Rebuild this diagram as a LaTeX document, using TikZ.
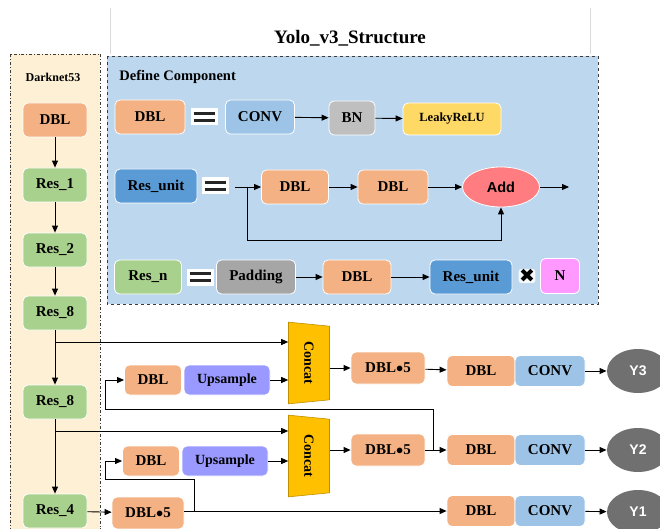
\documentclass[tikz,border=0pt]{standalone}
\usepackage{fontspec}
\setmainfont{Liberation Serif}
\newfontfamily\arialfont{Liberation Sans}
\newfontfamily\symfont{DejaVu Sans}
\usetikzlibrary{shapes.geometric,arrows.meta}
\definecolor{DBLOrange}{RGB}{244,177,131}
\definecolor{ResGreen}{RGB}{169,209,142}
\definecolor{ConvBlue}{RGB}{157,195,230}
\definecolor{UnitBlue}{RGB}{91,155,213}
\definecolor{BNGray}{RGB}{191,191,191}
\definecolor{PadGray}{RGB}{166,166,166}
\definecolor{ReluYellow}{RGB}{255,217,102}
\definecolor{AddRed}{RGB}{255,124,128}
\definecolor{NPink}{RGB}{255,153,255}
\definecolor{UpPurple}{RGB}{153,153,255}
\definecolor{ConcatGold}{RGB}{255,192,0}
\definecolor{OutGray}{RGB}{112,112,112}
\definecolor{DarkPanel}{RGB}{253,240,212}
\definecolor{DefPanel}{RGB}{189,215,238}
\definecolor{LineGray}{RGB}{60,60,60}

\begin{document}
\begin{tikzpicture}[x=1pt,y=-1pt,
  >={Triangle[length=7pt,width=6pt]},
  every path/.style={line width=0.9pt},
  blk/.style={draw=white,line width=0.8pt,rounded corners=5pt,minimum height=34,
              inner sep=2pt,font=\fontsize{15}{15}\selectfont\bfseries},
  dbl/.style={blk,fill=DBLOrange},
  res/.style={blk,fill=ResGreen,minimum width=64},
  conv/.style={blk,fill=ConvBlue},
  unit/.style={blk,fill=UnitBlue,minimum width=82},
  ups/.style={blk,fill=UpPurple,minimum width=86,minimum height=30,font=\fontsize{14}{14}\selectfont\bfseries},
  outy/.style={ellipse,fill=OutGray,minimum width=62,minimum height=44,
               text=white,font=\arialfont\fontsize{14}{14}\selectfont\bfseries},
  concat/.style={trapezium,trapezium left angle=76,trapezium right angle=76,
                 trapezium stretches=true,minimum width=82,minimum height=41,
                 fill=ConcatGold,draw=ConcatGold!75!black,line width=0.6pt,rotate=-90,
                 inner sep=0pt,font=\fontsize{14}{14}\selectfont\bfseries},
  eqs/.style={fill=white,minimum width=27,minimum height=17,inner sep=0pt,
              path picture={\draw[line width=2.4pt,black!85]
                ([shift={(3pt,3.4pt)}]path picture bounding box.west) -- ([shift={(-3pt,3.4pt)}]path picture bounding box.east)
                ([shift={(3pt,-3.4pt)}]path picture bounding box.west) -- ([shift={(-3pt,-3.4pt)}]path picture bounding box.east);}},
]
\useasboundingbox (0,0) rectangle (660,529);
\draw[black!15,line width=0.6pt] (110,8) -- (110,54) (590,8) -- (590,54);

% panels
\draw[LineGray,fill=DarkPanel,dash dot] (10,54) rectangle (100,540);
\draw[LineGray,fill=DefPanel,dashed] (107,56) rectangle (598,304);
\node[font=\fontsize{19}{19}\selectfont\bfseries] (title) at (350,38) {Yolo\_v3\_Structure};
\node[font=\fontsize{12}{12}\selectfont\bfseries] (dnlabel) at (53,77) {Darknet53};
\node[anchor=west,inner sep=0pt,font=\fontsize{14.5}{14.5}\selectfont\bfseries] (dclabel) at (119,77) {Define Component};

% Darknet53 backbone
\node[dbl,minimum width=64] (bdbl) at (55,120) {DBL};
\node[res] (res1) at (55,185) {Res\_1};
\node[res] (res2) at (55,250) {Res\_2};
\node[res] (res8a) at (55,313) {Res\_8};
\node[res] (res8b) at (55,402) {Res\_8};
\node[res] (res4) at (55,511) {Res\_4};
\draw[->] (bdbl) -- (res1);
\draw[->] (res1) -- (res2);
\draw[->] (res2) -- (res8a);
\draw[->] (res8a) -- (res8b);
\draw[->] (res8b) -- (res4);

% DBL = CONV -> BN -> LeakyReLU
\node[dbl,minimum width=70] (cdbl) at (150,117) {DBL};
\node[eqs] (eqa) at (204,117) {};
\node[conv,minimum width=69] (cconv) at (260,117) {CONV};
\node[blk,fill=BNGray,minimum width=46] (cbn) at (352,118) {BN};
\node[blk,fill=ReluYellow,minimum width=98,minimum height=32,font=\fontsize{12.5}{12.5}\selectfont\bfseries] (crelu) at (452,119) {LeakyReLU};
\draw[->] (cconv) -- (cbn);
\draw[->] (cbn) -- (crelu);

% Res_unit = DBL -> DBL -> Add
\node[unit] (cunit) at (156,186) {Res\_unit};
\node[eqs] (eqb) at (215,186) {};
\coordinate (uin) at (235,187);
\coordinate (uskip) at (247,187);
\node[dbl,minimum width=67] (udbla) at (295,187) {DBL};
\node[dbl,minimum width=70] (udblb) at (393,187) {DBL};
\node[ellipse,draw=white,line width=0.8pt,fill=AddRed,minimum width=77,minimum height=40,
      font=\arialfont\fontsize{14.5}{14.5}\selectfont\bfseries] (add) at (501,187) {Add};
\coordinate (uout) at (569,187);
\draw[->] (uin) -- (udbla);
\draw[->] (udbla) -- (udblb);
\draw[->] (udblb) -- (add);
\draw[->] (add) -- (uout);
\draw[->] (uskip) -- ++(0,53) -| (add.south);

% Res_n = Padding -> DBL -> Res_unit x N
\node[res,minimum width=67] (cresn) at (148,277) {Res\_n};
\node[eqs] (eqc) at (200,277) {};
\node[blk,fill=PadGray,minimum width=79] (cpad) at (256,277) {Padding};
\node[dbl,minimum width=68] (ndbl) at (357,277) {DBL};
\node[unit] (nunit) at (471,277) {Res\_unit};
\node[font=\symfont\fontsize{19}{19}\selectfont,inner sep=0.5pt,fill=white!85!DefPanel,rounded corners=3pt] (ntimes) at (527,276) {✖};
\node[blk,fill=NPink,minimum width=39,minimum height=35] (nn) at (560,276) {N};
\draw[->] (cpad) -- (ndbl);
\draw[->] (ndbl) -- (nunit);

% three output branches
\node[concat] (cata) at (309,363) {Concat};
\node[concat] (catb) at (309,456) {Concat};
\node[dbl,minimum width=57,minimum height=30] (updbla) at (153,380) {DBL};
\node[ups] (upa) at (227,380) {Upsample};
\node[dbl,minimum width=57,minimum height=30] (updblb) at (151,461) {DBL};
\node[ups] (upb) at (225,461) {Upsample};
\node[dbl,minimum width=74,minimum height=32] (dfa) at (388,368) {DBL$\bullet$5};
\node[dbl,minimum width=74,minimum height=32] (dfb) at (388,450) {DBL$\bullet$5};
\node[dbl,minimum width=72,minimum height=32] (dfc) at (148,513) {DBL$\bullet$5};
\node[dbl,minimum width=68,minimum height=31] (odbla) at (481,371) {DBL};
\node[conv,minimum width=70,minimum height=31] (oconva) at (550,371) {CONV};
\node[dbl,minimum width=68,minimum height=31] (odblb) at (481,450) {DBL};
\node[conv,minimum width=70,minimum height=31] (oconvb) at (550,450) {CONV};
\node[dbl,minimum width=68,minimum height=31] (odblc) at (481,511) {DBL};
\node[conv,minimum width=70,minimum height=31] (oconvc) at (550,511) {CONV};
\node[outy] (y3) at (638,371) {Y3};
\node[outy] (y2) at (638,450) {Y2};
\node[outy] (y1) at (638,512) {Y1};

\coordinate (bra) at (55,342);
\coordinate (brb) at (55,431);
\coordinate (jb) at (433,450);
\coordinate (jc) at (194,511);
\coordinate (loopa) at (105,409);
\coordinate (loopb) at (105,479);
\draw[->] (bra) -- (bra -| cata.south);
\draw[->] (brb) -- (brb -| catb.south);
\draw[->] (upa) -- (upa -| cata.south);
\draw[->] (upb) -- (upb -| catb.south);
\draw[->] (cata.north |- dfa) -- (dfa);
\draw[->] (catb.north |- dfb) -- (dfb);
\draw[->] (res4) -- (dfc);
\draw[->] (dfa) -- (odbla);
\draw[->] (dfb) -- (odblb);
\draw[->] (dfc.east |- odblc) -- (odblc);
\draw[->] (oconva) -- (y3);
\draw[->] (oconvb) -- (y2);
\draw[->] (oconvc) -- (y1);
\draw[->] (jb) |- (loopa) |- (updbla);
\draw[->] (jc) |- (loopb) |- (updblb);
\end{tikzpicture}
\end{document}
